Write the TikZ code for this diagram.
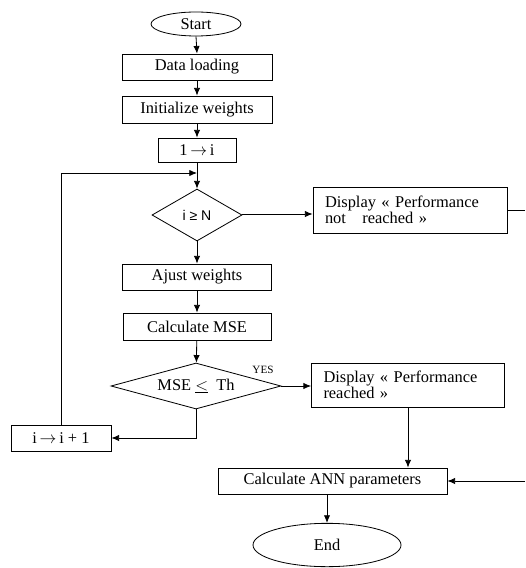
\documentclass[tikz,border=0pt]{standalone}
\usepackage{fontspec}
\setmainfont{Liberation Serif}
\newfontfamily\sansfnt{Liberation Sans}
\usetikzlibrary{shapes.geometric,arrows.meta}

\tikzset{
	flowline/.style={line width=0.7pt, -{Latex[length=2.3mm,width=1.9mm]}},
	plainline/.style={line width=0.7pt},
	procbox/.style={draw, line width=0.7pt, rectangle, inner sep=0pt, font=\fontsize{14}{15}\selectfont},
	msgbox/.style={draw, line width=0.7pt, rectangle, inner xsep=0.36cm, inner ysep=0pt, align=left, font=\fontsize{14}{13.8}\selectfont},
	testbox/.style={draw, line width=0.7pt, diamond, inner sep=0pt, font=\fontsize{14}{15}\selectfont},
	termbox/.style={draw, line width=0.7pt, ellipse, inner sep=0pt, font=\fontsize{14}{15}\selectfont}
}

\begin{document}
\begin{tikzpicture}[x=0.03cm, y=-0.03cm]
		%%%%% START %%%%%
		\useasboundingbox (0, 0) rectangle (525, 568);
		
		\node[termbox, minimum width=2.7cm, minimum height=0.72cm] (start) at (196, 24) {Start};
		\node[procbox, minimum width=4.5cm, minimum height=0.78cm] (dataload) at (197, 67) {Data loading};
		\node[procbox, minimum width=4.5cm, minimum height=0.81cm] (initw) at (197, 109.5) {Initialize weights};
		\node[procbox, minimum width=2.34cm, minimum height=0.72cm] (onei) at (197, 150) {1\,$\rightarrow$\,i};
		\coordinate (loopin) at (197, 173);
		
		\node[testbox, shape aspect=1.7, minimum width=2.7cm, minimum height=1.56cm] (condn) at (197, 215) {\sansfnt\fontsize{12}{14}\selectfont i ≥ N};
		\node[msgbox, minimum width=5.82cm, minimum height=1.38cm, text width=5.1cm] (notreach) at (410, 210) {Display « Performance\\not \ \ reached »};
		\coordinate (notout) at (525, 210);
		
		\node[procbox, minimum width=4.47cm, minimum height=0.78cm] (ajust) at (197, 277) {Ajust weights};
		\node[procbox, minimum width=4.44cm, minimum height=0.81cm] (calcmse) at (197, 326.5) {Calculate MSE};
		
		\node[testbox, shape aspect=3.7, minimum width=5.1cm, minimum height=1.38cm] (condmse) at (196, 386) {MSE $\underline{<}$\ \ Th};
		\node[font=\fontsize{9.5}{11}\selectfont] (yes) at (263, 370) {YES};
		\node[msgbox, minimum width=5.79cm, minimum height=1.32cm, text width=5.07cm] (reach) at (408, 385) {Display « Performance\\reached »};
		
		\node[procbox, minimum width=3cm, minimum height=0.78cm] (incr) at (61, 438) {i\,$\rightarrow$\,i + 1};
		
		\node[procbox, minimum width=6.87cm, minimum height=0.78cm] (calcann) at (332.5, 481) {Calculate ANN parameters};
		\coordinate (annin) at (525, 481);
		\node[termbox, minimum width=4.44cm, minimum height=1.3cm] (endn) at (327, 545) {End};
		
		% main column
		\draw[flowline] (start.south) -- (dataload.north);
		\draw[flowline] (dataload) -- (initw);
		\draw[flowline] (initw) -- (onei);
		\draw[flowline] (onei) -- (condn);
		\draw[flowline] (condn) -- (ajust);
		\draw[flowline] (ajust) -- (calcmse);
		\draw[flowline] (calcmse) -- (condmse);
		
		% branches
		\draw[flowline] (condn.east |- notreach.west) ++(0, 4) -- (notreach.west |- 0, 214);
		\draw[plainline] (notreach.east) -- (notout);
		\draw[flowline] (condmse.east) -- (reach.west |- condmse.east);
		\draw[flowline] (condmse.south) -- (condmse.south |- incr.east) -- (incr.east);
		\draw[flowline] (incr.north) -- (incr.north |- loopin) -- (loopin);
		\draw[flowline] (reach.south) -- (reach.south |- calcann.north);
		\draw[flowline] (annin) -- (calcann.east);
		\draw[flowline] (endn.north |- calcann.south) -- (endn.north);
		
		%%%%% END %%%%%
	\end{tikzpicture}
\end{document}
